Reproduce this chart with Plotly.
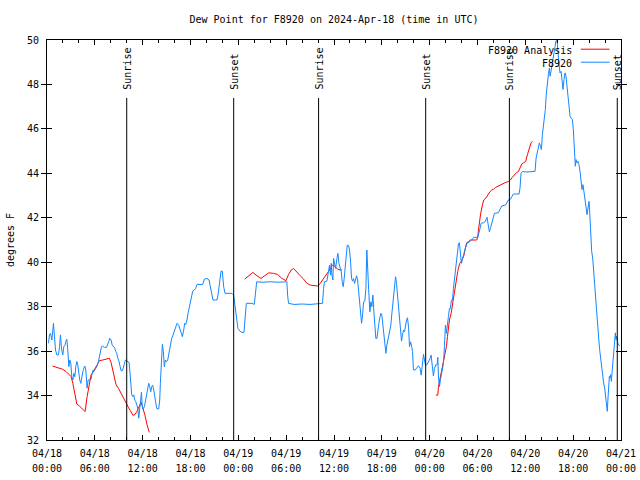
import pandas as pd
import plotly.graph_objects as go

BASE = "2024-04-18 00:00"
X_RANGE = ["2024-04-18 00:00", "2024-04-21 00:00"]
Y_RANGE = [32, 50]

# Observed dew point (F8920): hours since 2024-04-18 00:00 UTC, degrees F
obs_hours = [
    0.19, 0.31, 0.44, 0.61, 0.81, 0.94, 1.07, 1.23, 1.44, 1.57, 1.69, 1.82, 1.98, 2.11, 2.28, 2.36,
    2.49, 2.61, 2.74, 2.86, 2.99, 3.11, 3.24, 3.36, 3.49, 3.61, 3.74, 3.86, 3.99, 4.11, 4.24, 4.36,
    4.49, 4.62, 4.74, 4.87, 4.99, 5.03, 5.16, 5.37, 5.53, 5.66, 5.79, 5.95, 6.12, 6.29, 6.45, 6.58,
    6.70, 6.83, 6.95, 7.21, 7.46, 7.62, 7.75, 7.87, 8.04, 8.17, 8.33, 8.50, 8.63, 8.75, 8.88, 9.04,
    9.17, 9.29, 9.46, 9.59, 9.71, 9.84, 10.00, 10.13, 10.30, 10.38, 10.51, 10.63, 10.76, 10.88, 11.01, 11.13,
    11.26, 11.38, 11.51, 11.63, 11.76, 11.85, 11.93, 12.05, 12.22, 12.34, 12.47, 12.64, 12.76, 12.89, 13.01, 13.14,
    13.26, 13.39, 13.51, 13.64, 13.76, 14.01, 14.14, 14.22, 14.35, 14.47, 14.60, 14.72, 14.85, 14.98, 15.14, 15.31,
    15.48, 15.64, 15.81, 15.98, 16.14, 16.31, 16.52, 16.73, 16.98, 17.15, 17.27, 17.40, 17.56, 17.69, 17.86, 17.98,
    18.11, 18.28, 18.48, 18.65, 18.82, 19.15, 19.53, 19.74, 20.07, 20.32, 20.49, 20.66, 20.82, 21.12, 21.32, 21.45,
    21.57, 21.70, 21.83, 21.99, 22.16, 22.33, 22.79, 23.20, 23.41, 23.58, 23.75, 23.95, 24.20, 24.46, 24.71, 24.87,
    25.00, 25.71, 26.00, 26.13, 26.30, 27.00, 28.00, 29.00, 30.09, 30.18, 30.30, 31.00, 32.00, 33.00, 34.06, 34.56,
    34.69, 34.81, 35.11, 35.32, 35.44, 35.57, 35.65, 35.74, 35.86, 35.95, 36.07, 36.20, 36.37, 36.49, 36.62, 36.78,
    36.91, 37.03, 37.16, 37.28, 37.41, 37.53, 37.66, 37.83, 37.95, 38.08, 38.20, 38.33, 38.45, 38.58, 38.70, 38.83,
    38.96, 39.08, 39.21, 39.33, 39.46, 39.58, 39.71, 39.87, 40.00, 40.12, 40.25, 40.38, 40.50, 40.63, 40.75, 40.88,
    41.00, 41.13, 41.25, 41.38, 41.50, 41.63, 41.75, 41.88, 42.00, 42.13, 42.25, 42.38, 42.51, 42.63, 42.76, 42.88,
    43.01, 43.13, 43.26, 43.38, 43.51, 43.63, 43.72, 43.84, 43.97, 44.09, 44.22, 44.34, 44.47, 44.59, 44.72, 44.85,
    44.97, 45.10, 45.22, 45.35, 45.47, 45.60, 45.72, 45.85, 45.97, 46.18, 46.39, 46.60, 46.81, 46.93, 47.06, 47.23,
    47.35, 47.48, 47.64, 47.85, 48.06, 48.18, 48.31, 48.47, 48.60, 48.77, 48.93, 49.02, 49.10, 49.23, 49.35, 49.48,
    49.60, 49.73, 49.85, 49.98, 50.10, 50.23, 50.35, 50.48, 50.60, 50.73, 50.86, 50.98, 51.11, 51.23, 51.36, 51.48,
    51.61, 51.73, 51.86, 51.98, 52.11, 52.23, 52.36, 52.48, 52.61, 52.73, 52.86, 53.07, 53.28, 53.40, 53.53, 54.03,
    54.20, 54.32, 54.45, 54.62, 54.78, 54.95, 55.12, 55.20, 55.28, 55.37, 55.49, 55.62, 55.78, 55.95, 56.12, 56.62,
    56.83, 57.04, 57.54, 57.71, 57.87, 58.12, 58.29, 58.50, 59.21, 59.33, 59.46, 59.63, 60.20, 61.22, 61.35, 61.51,
    61.64, 61.76, 61.89, 62.01, 62.14, 62.26, 62.39, 62.51, 62.64, 62.76, 62.89, 63.02, 63.10, 63.22, 63.35, 63.48,
    63.60, 63.73, 63.85, 63.98, 64.10, 64.23, 64.35, 64.48, 64.60, 64.73, 64.85, 64.98, 65.10, 65.23, 65.36, 65.48,
    65.61, 65.73, 65.90, 66.02, 66.11, 66.19, 66.27, 66.36, 66.48, 66.61, 66.73, 66.86, 66.98, 67.11, 67.23, 67.36,
    67.48, 67.61, 67.74, 67.86, 67.99, 68.07, 68.20, 68.32, 68.45, 68.57, 68.70, 68.82, 68.95, 69.07, 69.20, 69.32,
    69.45, 69.57, 69.70, 69.82, 69.95, 70.07, 70.20, 70.28, 70.37, 70.45, 70.54, 70.62, 70.70, 70.79, 70.91, 71.04,
    71.16, 71.29, 71.37, 71.45, 71.58, 71.71, 71.83,
]
obs_values = [
    36.35, 36.73, 36.80, 36.50, 37.25, 36.58, 36.05, 35.83, 35.83, 36.20, 36.73, 36.10, 35.83, 36.20, 36.28, 36.43,
    36.53, 36.05, 35.30, 35.60, 35.45, 34.85, 34.70, 35.00, 34.85, 35.30, 35.53, 35.38, 35.00, 34.70, 34.55, 34.85,
    35.08, 35.23, 35.33, 35.15, 34.55, 34.33, 34.70, 34.70, 34.73, 35.00, 35.15, 35.12, 35.23, 35.33, 35.53, 35.75,
    35.98, 36.20, 36.23, 36.17, 36.17, 36.28, 36.43, 36.58, 36.50, 36.28, 36.20, 36.13, 35.98, 35.90, 35.68, 35.53,
    35.30, 35.12, 35.12, 35.30, 35.53, 35.60, 35.56, 35.53, 35.48, 35.15, 34.40, 34.03, 33.95, 34.03, 33.80, 33.73,
    33.58, 33.43, 32.98, 33.50, 33.88, 34.15, 33.57, 33.39, 33.50, 33.72, 33.95, 34.32, 34.55, 34.40, 34.17, 34.40,
    34.47, 34.25, 33.95, 33.72, 33.42, 33.39, 33.80, 34.55, 35.30, 36.30, 35.97, 35.30, 35.60, 35.52, 35.60, 35.90,
    36.35, 36.57, 36.72, 36.90, 37.17, 37.25, 37.17, 36.95, 36.65, 36.95, 37.25, 37.20, 37.40, 37.70, 38.00, 38.30,
    38.52, 38.70, 38.75, 38.82, 39.00, 39.00, 39.00, 39.24, 39.27, 39.20, 38.90, 38.52, 38.30, 38.30, 38.30, 38.52,
    38.82, 39.35, 39.60, 39.60, 38.90, 38.60, 38.60, 38.60, 38.52, 38.00, 37.40, 37.02, 36.90, 36.84, 36.84, 37.47,
    38.15, 38.15, 38.10, 38.52, 39.12, 39.10, 39.12, 39.10, 39.12, 38.52, 38.15, 38.10, 38.12, 38.10, 38.12, 38.15,
    38.82, 39.12, 39.15, 39.57, 39.87, 39.42, 39.95, 39.42, 39.20, 40.17, 39.87, 39.72, 40.17, 40.40, 39.95, 39.65,
    39.57, 39.12, 38.90, 39.27, 39.72, 40.32, 40.77, 40.74, 40.55, 40.02, 39.27, 39.15, 39.27, 39.05, 39.27, 39.39,
    39.20, 38.75, 38.37, 37.92, 37.25, 37.62, 38.22, 38.25, 38.82, 40.55, 39.80, 38.52, 37.77, 38.22, 38.00, 38.52,
    37.77, 37.10, 36.57, 36.57, 37.02, 37.25, 37.50, 37.70, 37.62, 37.17, 36.72, 36.27, 35.90, 36.27, 36.50, 36.72,
    36.87, 37.17, 37.70, 38.22, 38.67, 39.27, 39.35, 39.05, 38.45, 37.77, 37.17, 36.72, 36.45, 36.72, 36.95, 36.87,
    37.17, 37.40, 37.50, 37.10, 36.20, 36.42, 36.27, 35.97, 35.15, 35.15, 35.25, 35.34, 35.22, 34.92, 35.30, 35.85,
    35.60, 35.37, 35.38, 35.52, 35.67, 35.82, 35.30, 34.88, 35.22, 35.38, 35.38, 35.72, 34.88, 34.40, 34.70, 35.00,
    35.22, 35.45, 36.20, 37.17, 36.80, 37.10, 37.55, 37.92, 37.92, 38.30, 38.30, 38.82, 39.27, 39.53, 39.88, 40.40,
    40.82, 40.88, 40.25, 39.95, 40.13, 40.33, 40.48, 40.70, 40.82, 40.85, 40.88, 40.92, 41.00, 41.07, 41.12, 41.12,
    41.30, 41.52, 41.75, 41.75, 41.78, 41.82, 42.02, 42.02, 41.82, 41.57, 41.37, 41.52, 41.75, 41.97, 42.20, 42.23,
    42.35, 42.53, 42.58, 42.73, 42.80, 42.83, 42.95, 43.07, 43.07, 43.33, 44.00, 44.08, 44.06, 44.09, 44.69, 44.99,
    45.29, 45.37, 45.22, 45.07, 45.74, 46.07, 46.42, 46.87, 47.62, 48.14, 48.44, 48.74, 48.37, 48.59, 48.82, 49.12,
    49.42, 49.72, 49.97, 49.97, 49.27, 48.89, 48.52, 48.59, 48.22, 47.77, 48.22, 48.52, 48.37, 47.92, 47.39, 46.87,
    46.57, 46.49, 46.42, 45.97, 45.29, 44.77, 44.32, 44.62, 44.47, 44.54, 44.39, 44.09, 43.64, 43.27, 43.49, 43.12,
    42.89, 42.59, 42.14, 42.44, 42.74, 42.29, 41.09, 40.49, 40.19, 39.74, 38.99, 38.39, 37.64, 37.19, 36.59, 36.07,
    35.62, 35.17, 34.79, 34.57, 34.34, 34.04, 33.67, 33.29, 33.89, 34.49, 34.87, 34.79, 34.94, 34.64, 35.09, 35.92,
    36.37, 36.82, 36.52, 36.67, 36.37, 36.29, 36.22,
]

# Analysis dew point (F8920 Analysis); None marks gaps between analysis runs
ana_hours = [
    0.69, 1.15, 1.57, 1.98, 2.40, 2.82, 3.03, 3.24, 3.45, 3.74, 4.07, 4.49, 4.78, 5.03, 5.24, 5.53,
    5.74, 6.16, 6.58, 7.00, 7.41, 7.83, 8.04, 8.25, 8.46, 8.67, 8.96, 9.29, 9.63, 9.92, 10.21, 10.46,
    10.76, 10.96, 11.26, 11.59, 11.80, 12.01, 12.26, 12.55, 12.84, None,
    24.79, 25.29, 25.83, 26.34, 26.84, 27.30, 27.80, 28.42, 28.93, 29.47, 29.97, 30.30, 30.64, 30.93, 31.35, 31.77,
    32.19, 32.60, 33.02, 33.44, 33.98, 34.27, 34.69, 35.11, 35.44, 35.73, 35.86, 36.16, 36.45, 36.78, 36.99, None,
    48.77, 49.02, 49.10, 49.23, 49.35, 49.52, 49.69, 49.81, 49.94, 50.10, 50.23, 50.35, 50.48, 50.69, 50.86, 50.98,
    51.11, 51.23, 51.36, 51.52, 51.61, 51.77, 51.94, 52.11, 52.28, 52.44, 52.65, 52.86, 53.11, 53.90, 54.03, 54.11,
    54.24, 54.40, 54.62, 54.78, 55.03, 55.28, 55.58, 55.78, 56.00, 56.29, 56.62, 57.04, 57.46, 57.87, 58.12, 58.37,
    58.62, 58.88, 59.13, 59.33, 59.55, 59.76, 60.05, 60.26, 60.51, 60.72, 60.89,
]
ana_values = [
    35.33, 35.27, 35.23, 35.18, 35.08, 34.93, 34.85, 34.55, 34.10, 33.62, 33.53, 33.38, 33.28, 33.95, 34.40, 34.93,
    35.03, 35.27, 35.57, 35.60, 35.65, 35.68, 35.48, 35.15, 34.82, 34.48, 34.33, 34.10, 33.88, 33.62, 33.47, 33.32,
    33.12, 33.12, 33.27, 33.53, 33.70, 33.45, 33.15, 32.68, 32.34, None,
    39.24, 39.39, 39.54, 39.39, 39.27, 39.39, 39.52, 39.50, 39.45, 39.27, 39.17, 39.45, 39.65, 39.72, 39.54, 39.39,
    39.24, 39.05, 38.97, 38.94, 38.93, 39.05, 39.27, 39.45, 39.65, 39.84, 39.87, 39.80, 39.69, 39.65, 39.65, None,
    34.02, 34.02, 34.40, 34.62, 34.85, 35.22, 35.45, 35.75, 35.90, 36.20, 36.65, 37.10, 37.40, 37.70, 38.12, 38.30,
    38.63, 38.87, 39.20, 39.58, 39.73, 39.95, 40.03, 40.13, 40.28, 40.55, 40.88, 40.92, 41.00, 41.00, 41.12, 41.42,
    41.90, 42.20, 42.58, 42.80, 42.88, 43.03, 43.18, 43.25, 43.28, 43.37, 43.43, 43.52, 43.58, 43.63, 43.70, 43.82,
    43.93, 44.03, 44.08, 44.23, 44.42, 44.47, 44.54, 44.84, 45.14, 45.37, 45.44,
]

# Sun events (UTC)
sun_labels = ["Sunrise", "Sunset", "Sunrise", "Sunset", "Sunrise", "Sunset"]
sun_times = ["2024-04-18 10:00", "2024-04-18 23:25", "2024-04-19 10:04",
             "2024-04-19 23:30", "2024-04-20 10:00", "2024-04-20 23:32"]

TITLE = "Dew Point for F8920 on 2024-Apr-18 (time in UTC)"
Y_TITLE = "degrees F"
SERIES_NAMES = ["F8920 Analysis", "F8920"]
COLORS = ["#ff0000", "#1487ff"]

FONT = "DejaVu Sans Mono"
base = pd.Timestamp(BASE)


def to_time(hours):
    return [None if h is None else base + pd.Timedelta(hours=h) for h in hours]


fig = go.Figure()
fig.add_trace(go.Scatter(x=to_time(ana_hours), y=ana_values, mode="lines",
                         name=SERIES_NAMES[0], line=dict(color=COLORS[0], width=1),
                         connectgaps=False, showlegend=False))
fig.add_trace(go.Scatter(x=to_time(obs_hours), y=obs_values, mode="lines",
                         name=SERIES_NAMES[1], line=dict(color=COLORS[1], width=1),
                         showlegend=False))
# helper (empty) trace so the second row of time labels is drawn
fig.add_trace(go.Scatter(x=X_RANGE, y=[None, None], xaxis="x2", mode="lines",
                         showlegend=False, hoverinfo="skip"))

tickfont = dict(family=FONT, size=10, color="black")
SIX_H = 6 * 3600 * 1000
TWO_H = 2 * 3600 * 1000

fig.update_layout(
    width=640, height=480,
    margin=dict(l=47, r=19, t=40, b=40, autoexpand=False),
    paper_bgcolor="white", plot_bgcolor="white",
    title=dict(text=TITLE, x=0.5, xref="paper", xanchor="center",
               y=1 - 19 / 480, yref="container", yanchor="middle",
               font=dict(family=FONT, size=10, color="black")),
    xaxis=dict(type="date", range=X_RANGE, tick0=X_RANGE[0], dtick=SIX_H, automargin=False,
               tickformat="%m/%d", tickfont=tickfont, showgrid=False, zeroline=False,
               showline=True, linecolor="black", linewidth=1, mirror="allticks",
               ticks="inside", ticklen=5, tickcolor="black", ticklabelstandoff=4,
               minor=dict(dtick=TWO_H, tick0=X_RANGE[0], ticks="inside", ticklen=3,
                          tickcolor="black", showgrid=False)),
    xaxis2=dict(type="date", range=X_RANGE, overlaying="x", side="bottom", anchor="y",
                automargin=False,
                tick0=X_RANGE[0], dtick=SIX_H, tickformat="%H:%M", tickfont=tickfont,
                showgrid=False, zeroline=False, showline=False, ticks="",
                ticklabelstandoff=21),
    yaxis=dict(range=Y_RANGE, dtick=2, tickfont=tickfont, showgrid=False, zeroline=False,
               automargin=False,
               showline=True, linecolor="black", linewidth=1, mirror="allticks",
               ticks="inside", ticklen=5, tickcolor="black", ticklabelstandoff=5,
               title=dict(text=Y_TITLE, font=tickfont, standoff=10)),
)

shapes = []
annotations = []
for label, t in zip(sun_labels, sun_times):
    shapes.append(dict(type="line", xref="x", yref="paper", x0=t, x1=t, y0=0, y1=0.855,
                       line=dict(color="black", width=1)))
    annotations.append(dict(x=t, y=0.87, xref="x", yref="paper", text=label,
                            textangle=-90, showarrow=False, xanchor="center",
                            yanchor="bottom", font=tickfont))

# key (text right-aligned, sample line to the right, as in the original)
key_rows = [0.975, 0.9425]
for name, color, ky in zip(SERIES_NAMES, COLORS, key_rows):
    annotations.append(dict(x=0.918, y=ky, xref="paper", yref="paper", text=name,
                            showarrow=False, xanchor="right", yanchor="middle", font=tickfont))
    shapes.append(dict(type="line", xref="paper", yref="paper", x0=0.930, x1=0.980,
                       y0=ky + 0.002, y1=ky + 0.002, line=dict(color=color, width=1)))

fig.update_layout(shapes=shapes, annotations=annotations)
fig.write_html("out.html", config={"displayModeBar": False},
               post_script="document.body.style.margin='0';")
